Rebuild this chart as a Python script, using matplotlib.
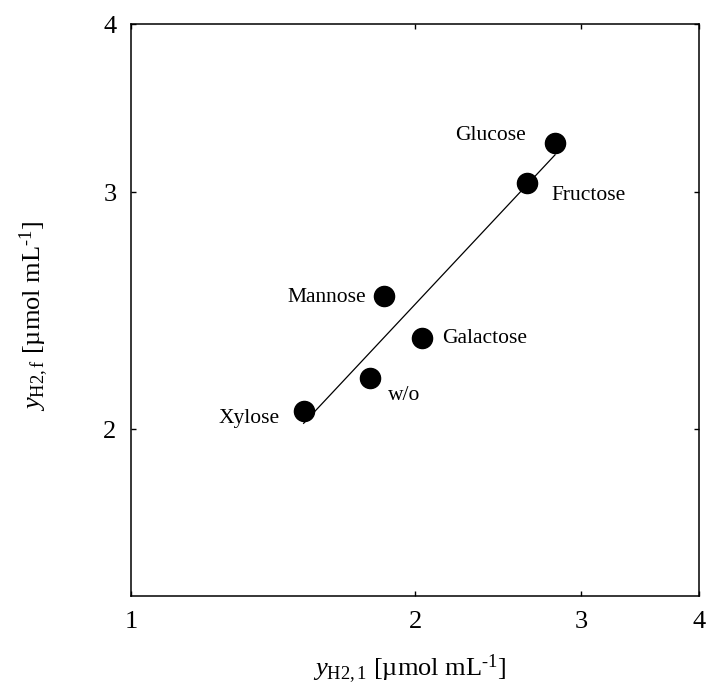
import numpy as np
import matplotlib
matplotlib.use("Agg")
import matplotlib.pyplot as plt
from matplotlib.ticker import FixedLocator, NullLocator, FixedFormatter

plt.rcParams["font.family"] = ["Liberation Serif", "DejaVu Serif"]
plt.rcParams["mathtext.fontset"] = "custom"
plt.rcParams["mathtext.rm"] = "Liberation Serif"
plt.rcParams["mathtext.it"] = "Liberation Serif:italic"

# Initial vs final hydrogen yield for each sugar
sugars = ["Glucose", "Fructose", "Mannose", "Galactose", "w/o", "Xylose"]
y_h2_initial = [2.815, 2.627, 1.856, 2.036, 1.793, 1.524]
y_h2_final = [3.263, 3.046, 2.514, 2.337, 2.185, 2.063]

x_ticks = [1, 2, 3, 4]
y_ticks = [2, 3, 4]

# label placement (pixel offsets from each point, alignment)
label_offsets = {
    "Glucose": (-29, 3, "right"),
    "Fructose": (25, -17, "left"),
    "Mannose": (-18, -6, "right"),
    "Galactose": (20, -5, "left"),
    "w/o": (18, -22, "left"),
    "Xylose": (-24, -12, "right"),
}

fig = plt.figure(figsize=(7.07, 6.96), dpi=100)
ax = fig.add_axes([131 / 707, 1 - 595.7 / 696, 568 / 707, 571.4 / 696])
ax.set_xscale("log")
ax.set_yscale("log")
ax.set_xlim(1, 4)
ax.set_ylim(1.504, 4)

# power-law fit (straight line in log-log space)
lx = np.log10(y_h2_initial)
ly = np.log10(y_h2_final)
slope, intercept = np.polyfit(lx, ly, 1)
xf = np.array([min(y_h2_initial), max(y_h2_initial)])
yf = 10 ** (intercept + slope * np.log10(xf))
ax.plot(xf, yf, color="black", lw=0.9, zorder=2)

ax.plot(y_h2_initial, y_h2_final, "o", color="black", ms=14.5, zorder=3)

for name, xv, yv in zip(sugars, y_h2_initial, y_h2_final):
    dx, dy, ha = label_offsets[name]
    ax.annotate(name, (xv, yv), xytext=(dx, dy), textcoords="offset pixels",
                ha=ha, va="baseline", fontsize=15.5)

ax.xaxis.set_major_locator(FixedLocator(x_ticks))
ax.xaxis.set_major_formatter(FixedFormatter([str(t) for t in x_ticks]))
ax.xaxis.set_minor_locator(NullLocator())
ax.yaxis.set_major_locator(FixedLocator(y_ticks))
ax.yaxis.set_major_formatter(FixedFormatter([str(t) for t in y_ticks]))
ax.yaxis.set_minor_locator(NullLocator())

ax.tick_params(axis="both", which="major", direction="in", length=3.5, width=1,
               top=True, right=True, labelsize=19)
ax.tick_params(axis="x", pad=11)
ax.tick_params(axis="y", pad=10.5)
for s in ax.spines.values():
    s.set_linewidth(1.1)

ax.set_xlabel(r"$y_{\mathrm{H2,1}}$ [µmol mL$^{\text{-1}}$]", fontsize=19)
ax.set_ylabel(r"$y_{\mathrm{H2,f}}$ [µmol mL$^{\text{-1}}$]", fontsize=19)
ax.xaxis.set_label_coords(0.49, -0.1)
ax.yaxis.set_label_coords(-0.14, 0.49)

fig.savefig("out.png", dpi=100)
